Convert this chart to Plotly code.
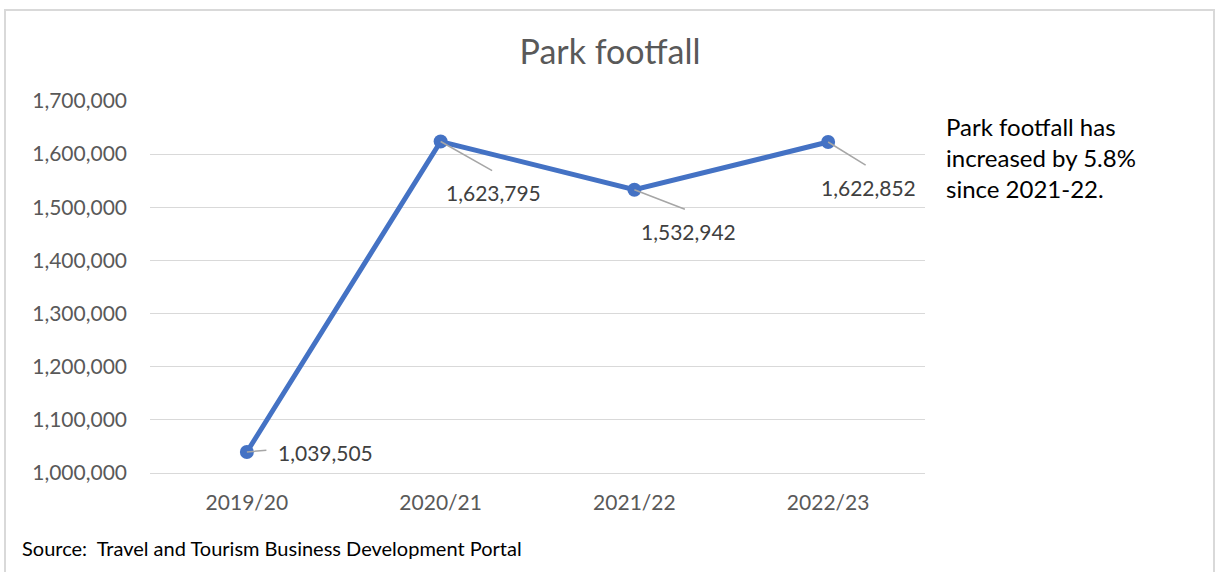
import plotly.graph_objects as go

categories = ["2019/20", "2020/21", "2021/22", "2022/23"]
footfall = [1039505, 1623795, 1532942, 1622852]
y_ticks = [1000000, 1100000, 1200000, 1300000, 1400000, 1500000, 1600000, 1700000]
y_tick_text = [f"{v:,}" for v in y_ticks]

# pixel offsets for label leader lines (end of leader) and text centers
leader_offsets = [(21, -2), (53, 30), (52, 20), (39, 24)]
label_offsets = [(79, 0), (53, 51), (54, 42), (40, 45)]

FONT = "Lato"
W, H = 1215, 572
L, R, T, B = 150, 290, 101, 99
pw, ph = W - L - R, H - T - B

fig = go.Figure()
fig.add_trace(go.Scatter(
    x=categories, y=footfall, mode="lines+markers",
    line=dict(color="#4472C4", width=5),
    marker=dict(color="#4472C4", size=14),
    hoverinfo="skip", showlegend=False,
))

annotations = []
for c, v, (lx, ly), (tx, ty) in zip(categories, footfall, leader_offsets, label_offsets):
    annotations.append(dict(
        x=c, y=v, xref="x", yref="y", text="", showarrow=True,
        arrowhead=0, arrowwidth=1.5, arrowcolor="#a6a6a6",
        ax=lx, ay=ly, standoff=0, startstandoff=0,
    ))
    annotations.append(dict(
        x=c, y=v, xref="x", yref="y", text=f"{v:,}", showarrow=False,
        xshift=tx, yshift=-ty, font=dict(family=FONT, size=21, color="#404040"),
    ))

annotations.append(dict(
    xref="paper", yref="paper", x=(944 - L) / pw, y=(H - B - 110) / ph,
    xanchor="left", yanchor="top", align="left", showarrow=False,
    text="Park footfall has<br>increased by 5.8%<br>since 2021-22.",
    font=dict(family=FONT, size=24, color="#000000"),
))
annotations.append(dict(
    xref="paper", yref="paper", x=(20 - L) / pw, y=(H - B - 548) / ph,
    xanchor="left", yanchor="middle", align="left", showarrow=False,
    text="Source:  Travel and Tourism Business Development Portal",
    font=dict(family=FONT, size=20, color="#000000"),
))

fig.update_layout(
    width=W, height=H,
    margin=dict(l=L, r=R, t=T, b=B, autoexpand=False),
    paper_bgcolor="white", plot_bgcolor="white",
    title=dict(text="Park footfall", x=610 / W, xanchor="center",
               y=1 - 52 / H, yanchor="middle",
               font=dict(family=FONT, size=34, color="#595959")),
    xaxis=dict(
        type="category", range=[-0.5, 3.5], showgrid=False, zeroline=False,
        showline=True, linecolor="#d9d9d9", linewidth=1.3, ticks="", ticklabelstandoff=11,
        tickfont=dict(family=FONT, size=21, color="#595959"),
    ),
    yaxis=dict(
        range=[1000000, 1700000], tickvals=y_ticks, ticktext=y_tick_text,
        showgrid=True, gridcolor="#d9d9d9", gridwidth=1.3, zeroline=False,
        showline=False, ticks="", ticklabelstandoff=22,
        tickfont=dict(family=FONT, size=21, color="#595959"),
    ),
    annotations=annotations,
    shapes=[dict(
        type="rect", xref="paper", yref="paper",
        x0=(5 - L) / pw, x1=(1214 - L) / pw,
        y0=(H - B - 590) / ph, y1=(H - B - 10) / ph,
        line=dict(color="#d9d9d9", width=2), fillcolor="rgba(0,0,0,0)", layer="below",
    )],
)

fig.write_html(
    "out.html",
    config={"displayModeBar": False},
    post_script="document.body.style.margin='0';document.body.style.overflow='hidden';",
)
